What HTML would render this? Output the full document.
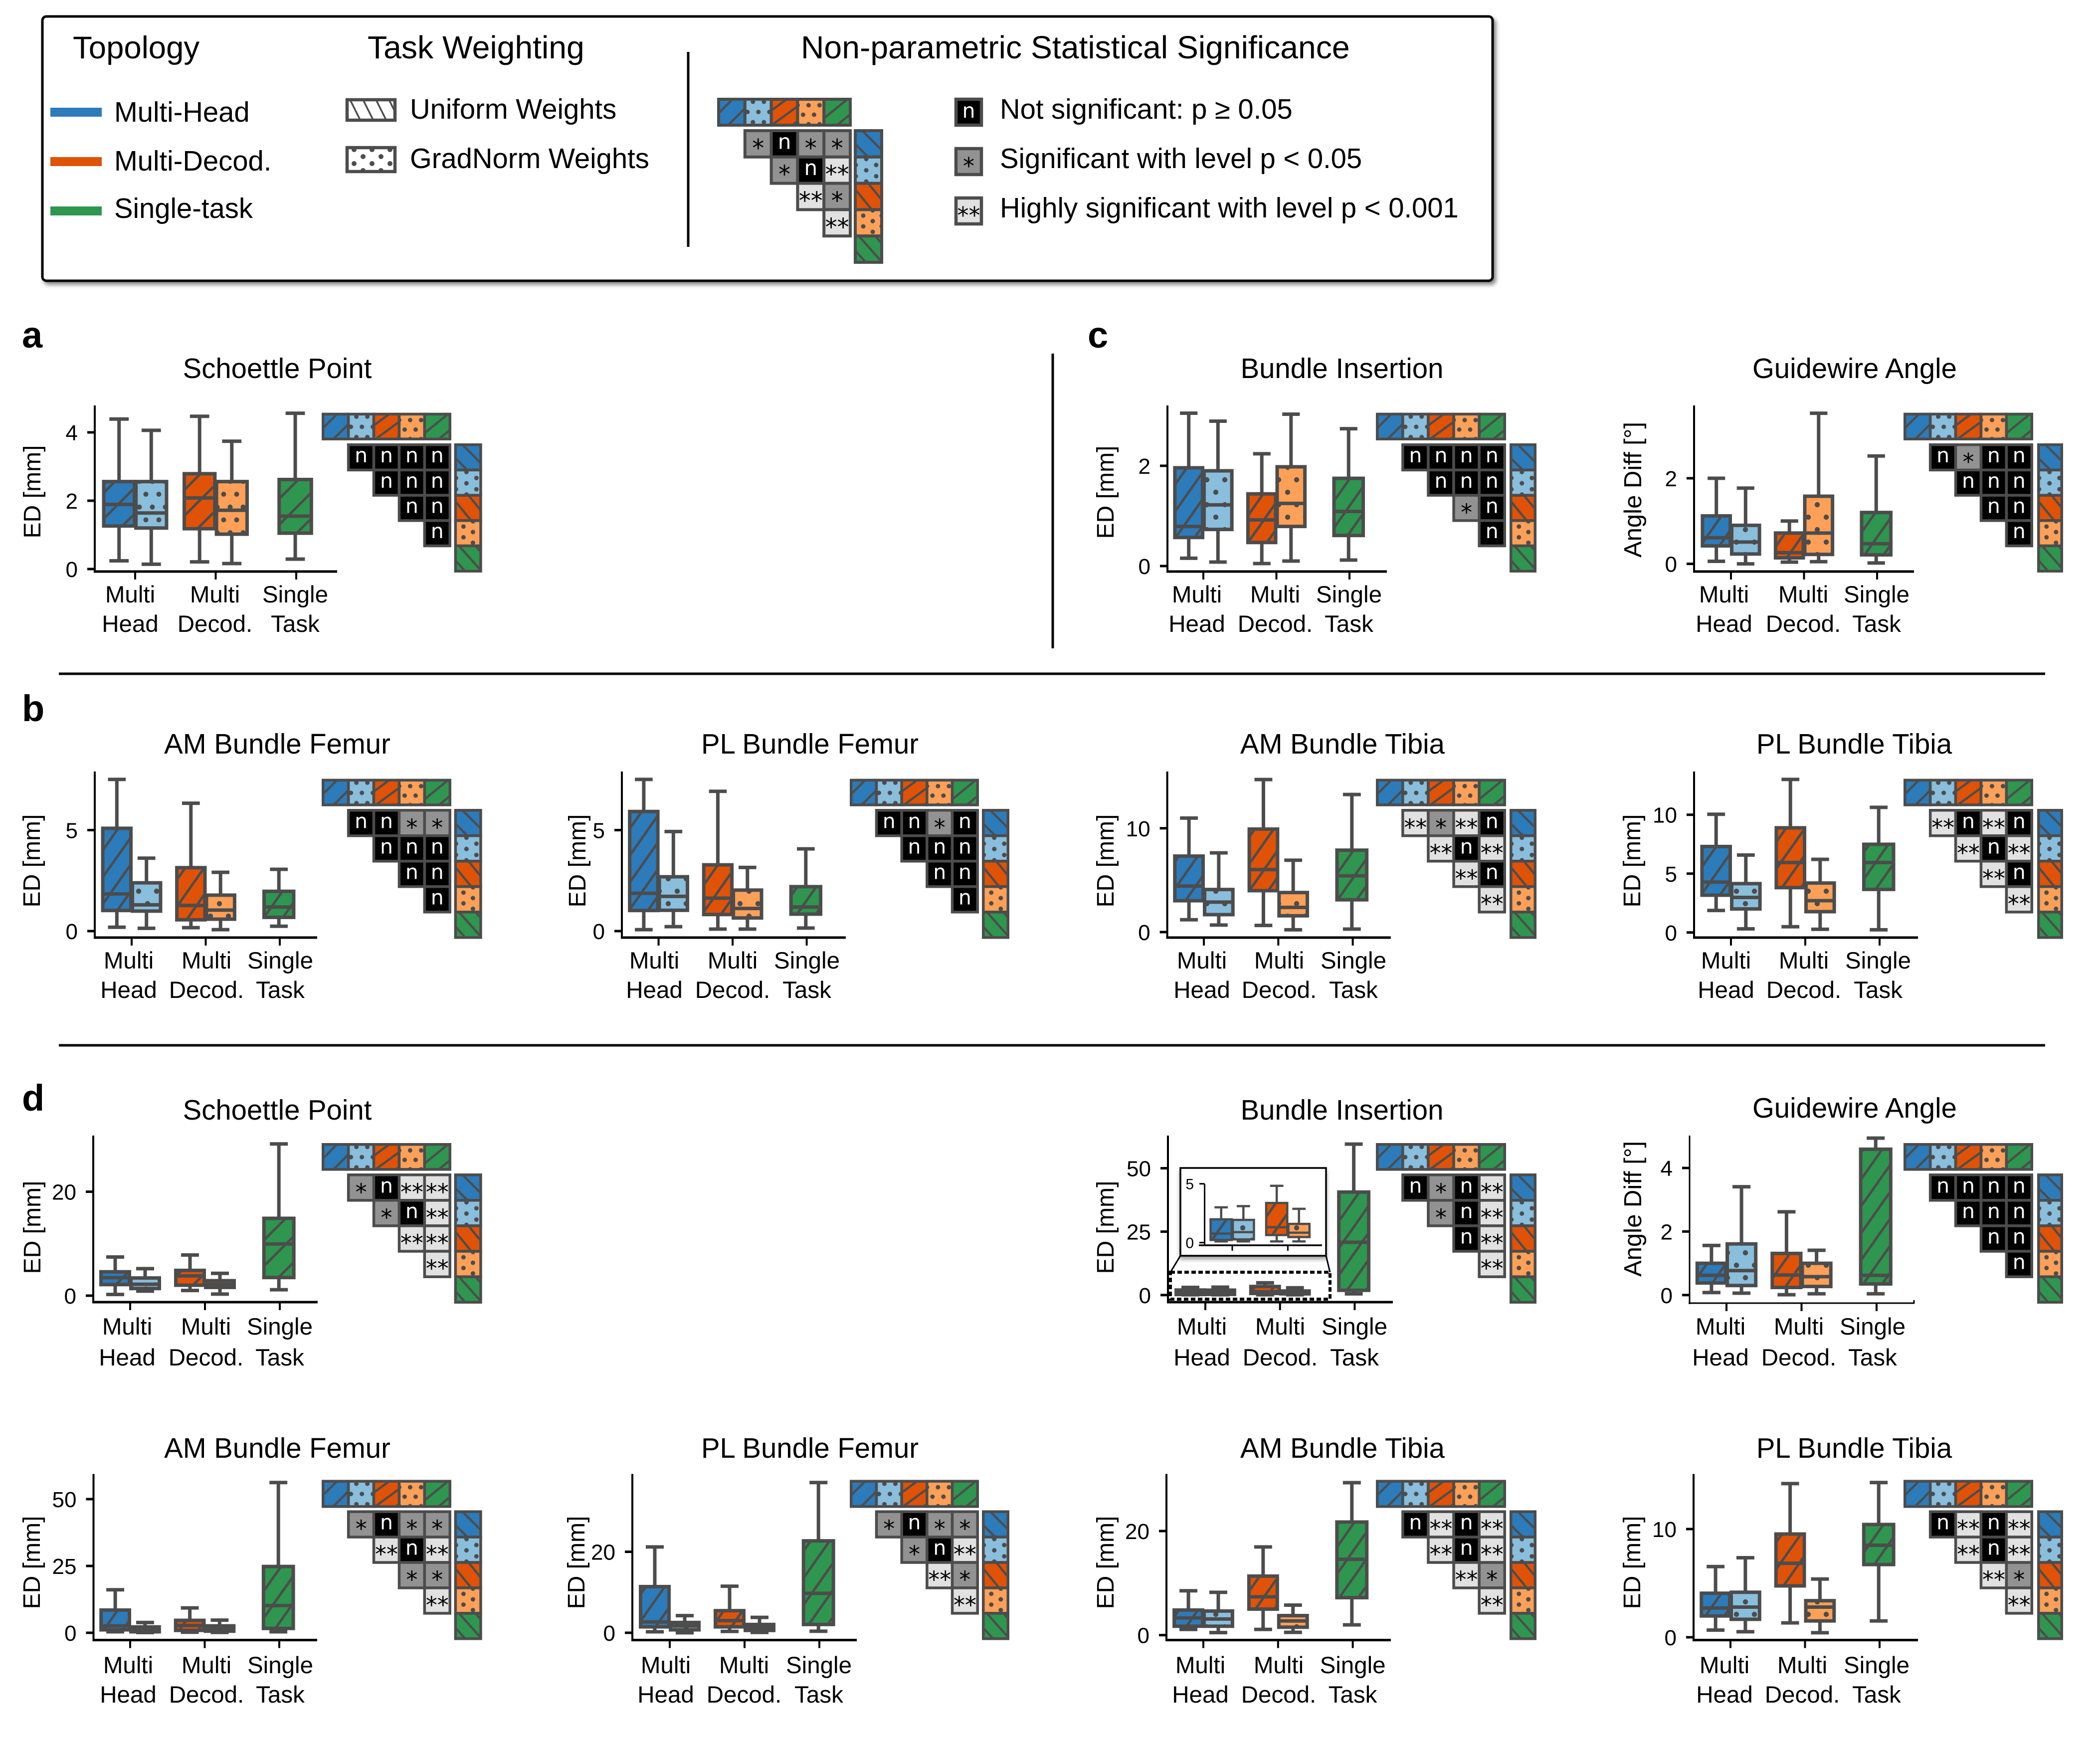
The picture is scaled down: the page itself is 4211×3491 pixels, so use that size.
<!DOCTYPE html>
<html lang="en">
<head>
<meta charset="utf-8">
<title>Statistical significance box plots</title>
<style>
html,body{margin:0;padding:0;background:#fff;}
svg{display:block;}
text{font-family:"Liberation Sans",Arial,sans-serif;fill:#000;}
.cell-text{font-family:"DejaVu Sans","Liberation Sans",sans-serif;}
</style>
</head>
<body>
<svg id="figure" xmlns="http://www.w3.org/2000/svg" width="4211" height="3491" viewBox="0 0 4211 3491">
  <defs id="defs"></defs>
  <rect x="0" y="0" width="4211" height="3491" fill="#fff"/>

  <g id="legend">
    <rect x="85" y="33" width="2908" height="530" rx="8" ry="8" fill="#fff" stroke="#000" stroke-width="5" style="filter:drop-shadow(5px 6px 4px rgba(0,0,0,.45))"/>
    <text x="146" y="117" font-size="63.5">Topology</text>
    <text x="737" y="117" font-size="64.3">Task Weighting</text>
    <text x="1606" y="117" font-size="64.3">Non-parametric Statistical Significance</text>

    <rect x="101" y="216" width="103" height="18" fill="#2c7bba"/>
    <rect x="101" y="315" width="103" height="18" fill="#e05206"/>
    <rect x="101" y="414" width="103" height="18" fill="#2e964e"/>
    <text x="229" y="244" font-size="56.2">Multi-Head</text>
    <text x="229" y="342" font-size="56.2">Multi-Decod.</text>
    <text x="229" y="437" font-size="56.2">Single-task</text>

    <rect x="696" y="200" width="96" height="41" fill="#fff"/>
    <rect x="696" y="200" width="96" height="41" fill="url(#legendHatch)"/>
    <rect x="696" y="200" width="96" height="41" fill="none" stroke="#4c4c4c" stroke-width="6.5"/>
    <rect x="696" y="296" width="96" height="48" fill="#fff"/>
    <rect x="696" y="296" width="96" height="48" fill="url(#legendDots)"/>
    <rect x="696" y="296" width="96" height="48" fill="none" stroke="#4c4c4c" stroke-width="6.5"/>
    <text x="822" y="238" font-size="56.2">Uniform Weights</text>
    <text x="822" y="337" font-size="56.2">GradNorm Weights</text>

    <line x1="1380" y1="104" x2="1380" y2="495" stroke="#000" stroke-width="5"/>

    <rect x="1917" y="199" width="51" height="52" fill="#000" stroke="#4c4c4c" stroke-width="6.5"/>
    <text class="cell-text" x="1942.5" y="236" font-size="41" text-anchor="middle" style="fill:#fff">n</text>
    <rect x="1917" y="298" width="51" height="52" fill="#929292" stroke="#4c4c4c" stroke-width="6.5"/>
    <text class="cell-text" x="1942.5" y="349" font-size="46" text-anchor="middle">*</text>
    <rect x="1917" y="397" width="51" height="52" fill="#e1e1e1" stroke="#4c4c4c" stroke-width="6.5"/>
    <text class="cell-text" x="1942.5" y="448" font-size="46" text-anchor="middle">**</text>
    <text x="2005" y="238" font-size="56.2">Not significant: p ≥ 0.05</text>
    <text x="2005" y="337" font-size="56.2">Significant with level p &lt; 0.05</text>
    <text x="2005" y="436" font-size="56.2">Highly significant with level p &lt; 0.001</text>
  </g>

  <line x1="2111" y1="709" x2="2111" y2="1300" stroke="#000" stroke-width="5"/>
  <line x1="118" y1="1351" x2="4101" y2="1351" stroke="#000" stroke-width="5"/>
  <line x1="118" y1="2096" x2="4101" y2="2096" stroke="#000" stroke-width="5"/>

  <text x="44" y="697" font-size="74" font-weight="bold">a</text>
  <text x="2181" y="697" font-size="74" font-weight="bold">c</text>
  <text x="44" y="1446" font-size="74" font-weight="bold">b</text>
  <text x="44" y="2227" font-size="74" font-weight="bold">d</text>

  <g id="panels"></g>
</svg>

<script>
// ---------- Shared categories ----------
const categoryTop = ['Multi', 'Multi', 'Single'];
const categoryBottom = ['Head', 'Decod.', 'Task'];
const seriesNames = ['multi-head-uniform', 'multi-head-gradnorm', 'multi-decod-uniform', 'multi-decod-gradnorm', 'single-task'];
const seriesColors = ['#2c7bba', '#89bedc', '#e05206', '#fea057', '#2e964e'];
const seriesGroup = [0, 0, 1, 1, 2];
const seriesDodge = [-0.2, 0.2, -0.2, 0.2, -0.012];

// ---------- Box values per panel: [low whisker, q1, median, q3, high whisker] ----------
const schoettleValues = [[0.24,1.26,1.89,2.56,4.39],[0.14,1.20,1.64,2.56,4.06],[0.21,1.18,2.08,2.79,4.47],[0.16,1.02,1.72,2.56,3.74],[0.29,1.05,1.55,2.62,4.56]];
const schoettleTicks = [0, 2, 4];
const schoettleSig = [['n','n','n','n'],['n','n','n'],['n','n'],['n']];

const insertionValues = [[0.155,0.57,0.79,1.96,3.05],[0.08,0.73,1.22,1.90,2.89],[0.05,0.47,0.92,1.44,2.24],[0.10,0.79,1.25,1.98,3.03],[0.12,0.61,1.09,1.75,2.74]];
const insertionTicks = [0, 2];
const insertionSig = [['n','n','n','n'],['n','n','n'],['*','n'],['n']];

const guidewireValues = [[0.06,0.42,0.61,1.12,2.0],[0.0,0.23,0.51,0.90,1.77],[0.04,0.14,0.26,0.72,1.0],[0.05,0.22,0.72,1.58,3.52],[0.02,0.21,0.47,1.20,2.52]];
const guidewireTicks = [0, 2];
const guidewireSig = [['n','*','n','n'],['n','n','n'],['n','n'],['n']];

const amFemurValues = [[0.19,1.02,1.84,5.09,7.51],[0.14,0.99,1.30,2.39,3.61],[0.17,0.56,1.27,3.14,6.33],[0.07,0.59,1.04,1.78,2.91],[0.24,0.68,1.19,1.97,3.06]];
const amFemurTicks = [0, 5];
const amFemurSig = [['n','n','*','*'],['n','n','n'],['n','n'],['n']];

const plFemurValues = [[0.07,1.02,1.87,5.92,7.51],[0.22,1.03,1.72,2.69,4.93],[0.10,0.82,1.63,3.28,6.92],[0.10,0.65,1.12,2.03,3.15],[0.15,0.84,1.19,2.20,4.07]];
const plFemurTicks = [0, 5];
const plFemurSig = [['n','n','*','n'],['n','n','n'],['n','n'],['n']];

const amTibiaValues = [[1.19,3.02,4.43,7.32,10.98],[0.68,1.68,2.89,4.10,7.63],[0.64,3.99,6.02,9.92,14.69],[0.22,1.57,2.38,3.81,6.92],[0.29,3.11,5.42,7.89,13.25]];
const amTibiaTicks = [0, 10];
const amTibiaSig = [['**','*','**','n'],['**','n','**'],['**','n'],['**']];

const plTibiaValues = [[1.87,3.17,4.28,7.30,10.04],[0.31,2.0,2.98,4.15,6.58],[0.49,3.81,5.94,8.89,13.0],[0.27,1.77,2.70,4.2,6.21],[0.23,3.66,5.94,7.49,10.63]];
const plTibiaTicks = [0, 5, 10];
const plTibiaSig = [['**','n','**','n'],['**','n','**'],['**','n'],['**']];

const schoettleRotValues = [[0.23,2.13,3.45,4.59,7.44],[0.87,1.37,2.2,3.4,5.2],[0.99,2.01,3.8,4.86,7.82],[0.3,1.59,2.2,2.88,4.29],[1.14,3.49,9.94,14.88,29.2]];
const schoettleRotTicks = [0, 20];
const schoettleRotSig = [['*','n','**','**'],['*','n','**'],['**','**'],['**']];

const insertionRotValues = [[0.1,0.22,0.77,1.98,3.0],[0.1,0.27,0.89,1.93,3.1],[0.1,0.64,1.31,3.37,4.83],[0.1,0.47,0.84,1.59,2.87],[0.47,1.87,20.8,40.6,59.5]];
const insertionRotTicks = [0, 25, 50];
const insertionRotInsetTicks = [0, 5];
const insertionRotSig = [['n','*','n','**'],['*','n','**'],['n','**'],['**']];

const guidewireRotValues = [[0.08,0.38,0.62,1.0,1.56],[0.06,0.30,0.77,1.61,3.41],[0.01,0.24,0.63,1.31,2.62],[0.04,0.27,0.58,1.0,1.41],[0.04,0.35,0.62,4.59,4.94]];
const guidewireRotTicks = [0, 2, 4];
const guidewireRotSig = [['n','n','n','n'],['n','n','n'],['n','n'],['n']];

const amFemurRotValues = [[0.37,1.1,2.6,8.5,16.1],[0.1,0.37,1.26,2.2,3.84],[0.22,0.89,2.73,4.65,9.3],[0.15,0.6,1.48,2.59,4.73],[0.37,1.63,10.2,24.8,56.2]];
const amFemurRotTicks = [0, 25, 50];
const amFemurRotSig = [['*','n','*','*'],['**','n','**'],['*','*'],['**']];

const plFemurRotValues = [[0.24,1.46,2.68,11.4,21.2],[0.0,0.73,1.7,2.54,4.24],[0.34,1.46,3.02,5.46,11.5],[0.1,0.58,1.32,2.05,3.8],[0.39,2.05,9.75,22.7,37.1]];
const plFemurRotTicks = [0, 20];
const plFemurRotSig = [['*','n','*','*'],['*','n','**'],['**','*'],['**']];

const amTibiaRotValues = [[1.1,1.71,3.3,4.82,8.53],[0.49,1.71,3.1,4.63,8.23],[1.1,5.0,7.36,11.34,16.95],[0.53,1.52,2.73,3.75,5.77],[1.97,7.2,14.57,21.73,29.3]];
const amTibiaRotTicks = [0, 20];
const amTibiaRotSig = [['n','**','n','**'],['**','n','**'],['**','*'],['**']];

const plTibiaRotValues = [[0.66,1.97,2.7,4.07,6.53],[0.51,1.66,2.79,4.16,7.35],[1.33,4.75,6.84,9.54,14.2],[0.42,1.51,2.79,3.38,5.38],[1.51,6.72,8.5,10.42,14.3]];
const plTibiaRotTicks = [0, 10];
const plTibiaRotSig = [['n','**','n','**'],['**','n','**'],['**','*'],['**']];

const legendSig = [['*','n','*','*'],['*','n','**'],['**','*'],['**']];

// ---------- Layout (geometry only) ----------
const colA = {x0:645, x1:905, rx0:910.6, rx1:966.7};
const colB = {x0:1704, x1:1963, rx0:1969, rx1:2024};
const colC = {x0:2759, x1:3020, rx0:3027, rx1:3081};
const colD = {x0:3817, x1:4077, rx0:4085, rx1:4137};
const rowA = {y0:827.6, y1:883, y2:889, y3:1148, axisTop:813, axisBottom:1146, title:758, lab1:1208, lab2:1267};
const rowB = {y0:1561.6, y1:1616.7, y2:1622, y3:1882.6, axisTop:1547, axisBottom:1880, title:1511, lab1:1942, lab2:2001};
const rowC = {y0:2292, y1:2347.6, y2:2353, y3:2614, axisTop:2277, axisBottom:2611, title:2245, lab1:2676, lab2:2738};
const rowD = {y0:2967.4, y1:3023.6, y2:3028.4, y3:3288.6, axisTop:2955.5, axisBottom:3288.6, title:2923, lab1:3355, lab2:3414};

const panels = [
 {id:'a-schoettle', title:'Schoettle Point', tcx:556, yLabel:'ED [mm]', yLx:81, yLy:986, values:schoettleValues, ticks:schoettleTicks, sig:schoettleSig, row:rowA, col:colA, axX:190, axR:676, tick0:271, step:161.5, pLow:1141, pHigh:867, labX:[261,431,592], hatch:'hatchSquare', dots:'dotsSquare'},
 {id:'c-insertion', title:'Bundle Insertion', tcx:2691, yLabel:'ED [mm]', yLx:2233, yLy:987, values:insertionValues, ticks:insertionTicks, sig:insertionSig, row:rowA, col:colC, axX:2341, axR:2781, tick0:2413, step:146.5, pLow:1135, pHigh:934, labX:[2400,2557,2705], hatch:'hatchSteep', dots:'dotsWide'},
 {id:'c-guidewire', title:'Guidewire Angle', tcx:3719, yLabel:'Angle Diff [°]', yLx:3291, yLy:982, lf:49, values:guidewireValues, ticks:guidewireTicks, sig:guidewireSig, row:rowA, col:colD, axX:3397, axR:3838, tick0:3471, step:146.5, pLow:1130.6, pHigh:959, labX:[3457,3616,3763], hatch:'hatchSteep', dots:'dotsWide'},

 {id:'b-am-femur', title:'AM Bundle Femur', tcx:556, yLabel:'ED [mm]', yLx:80, yLy:1726, values:amFemurValues, ticks:amFemurTicks, sig:amFemurSig, row:rowB, col:colA, axX:190, axR:636, tick0:264, step:148.5, pLow:1867, pHigh:1664.5, labX:[258,414,562], hatch:'hatchSteep', dots:'dotsWide'},
 {id:'b-pl-femur', title:'PL Bundle Femur', tcx:1624, yLabel:'ED [mm]', yLx:1174, yLy:1726, values:plFemurValues, ticks:plFemurTicks, sig:plFemurSig, row:rowB, col:colB, axX:1247, axR:1696, tick0:1320.6, step:148.5, pLow:1867, pHigh:1664.5, labX:[1312,1469,1618], hatch:'hatchSteep', dots:'dotsWide'},
 {id:'b-am-tibia', title:'AM Bundle Tibia', tcx:2692, yLabel:'ED [mm]', yLx:2233, yLy:1726, values:amTibiaValues, ticks:amTibiaTicks, sig:amTibiaSig, row:rowB, col:colC, axX:2340.6, axR:2789, tick0:2414, step:149.3, pLow:1869, pHigh:1660.8, labX:[2410,2565,2714], hatch:'hatchSteep', dots:'dotsWide'},
 {id:'b-pl-tibia', title:'PL Bundle Tibia', tcx:3718, yLabel:'ED [mm]', yLx:3289, yLy:1726, values:plTibiaValues, ticks:plTibiaTicks, sig:plTibiaSig, row:rowB, col:colD, axX:3397, axR:3846, tick0:3471, step:149, pLow:1869.8, pHigh:1633.7, labX:[3461,3617,3766], hatch:'hatchSteep', dots:'dotsWide'},

 {id:'d-schoettle', title:'Schoettle Point', tcx:556, yLabel:'ED [mm]', yLx:81, yLy:2461, values:schoettleRotValues, ticks:schoettleRotTicks, sig:schoettleRotSig, row:rowC, col:colA, axX:187, axR:637, tick0:261, step:150, pLow:2598, pHigh:2389.6, labX:[255,413,561], hatch:'hatchSquare', dots:'dotsSquare'},
 {id:'d-insertion', title:'Bundle Insertion', tcx:2691, yLabel:'ED [mm]', yLx:2233, yLy:2461, values:insertionRotValues, ticks:insertionRotTicks, sig:insertionRotSig, row:rowC, col:colC, axX:2342, axR:2793, tick0:2417, step:149.7, pLow:2596.8, pHigh:2342.5, labX:[2410,2567,2716], hatch:'hatchSteep', dots:'dotsWide', hasInset:true},
 {id:'d-guidewire', title:'Guidewire Angle', tcx:3719, titleY:2241, yLabel:'Angle Diff [°]', yLx:3291, yLy:2424, lf:49, values:guidewireRotValues, ticks:guidewireRotTicks, sig:guidewireRotSig, row:rowC, col:colD, axX:3388, axR:3838, axBottom:2613, thinAxis:true, tick0:3462, step:150.5, pLow:2596.8, pHigh:2342, labX:[3450,3607,3755], hatch:'hatchSteep', dots:'dotsWide'},

 {id:'d-am-femur', title:'AM Bundle Femur', tcx:556, yLabel:'ED [mm]', yLx:80, yLy:3133, values:amFemurRotValues, ticks:amFemurRotTicks, sig:amFemurRotSig, row:rowD, col:colA, axX:187.5, axR:636, tick0:261, step:149.5, pLow:3274, pHigh:3006, labX:[257,414,562], hatch:'hatchSteep', dots:'dotsWide'},
 {id:'d-pl-femur', title:'PL Bundle Femur', tcx:1624, yLabel:'ED [mm]', yLx:1172, yLy:3133, values:plFemurRotValues, ticks:plFemurRotTicks, sig:plFemurRotSig, row:rowD, col:colB, axX:1268, axR:1718, tick0:1343, step:150, pLow:3274, pHigh:3111.6, labX:[1335,1492,1642], hatch:'hatchSteep', dots:'dotsWide'},
 {id:'d-am-tibia', title:'AM Bundle Tibia', tcx:2692, yLabel:'ED [mm]', yLx:2233, yLy:3133, values:amTibiaRotValues, ticks:amTibiaRotTicks, sig:amTibiaRotSig, row:rowD, col:colC, axX:2339, axR:2789, tick0:2413, step:149.8, pLow:3278.7, pHigh:3070, labX:[2407,2564,2712.6], hatch:'hatchSteep', dots:'dotsWide'},
 {id:'d-pl-tibia', title:'PL Bundle Tibia', tcx:3718, yLabel:'ED [mm]', yLx:3289, yLy:3133, values:plTibiaRotValues, ticks:plTibiaRotTicks, sig:plTibiaRotSig, row:rowD, col:colD, axX:3396, axR:3846, tick0:3470, step:149.5, pLow:3283, pHigh:3066, labX:[3458,3614,3763], hatch:'hatchSteep', dots:'dotsWide'}
];

const GRAY = '#4c4c4c';
const NS = 'http://www.w3.org/2000/svg';
const defsEl = document.getElementById('defs');
const panelsEl = document.getElementById('panels');
const legendEl = document.getElementById('legend');

function make(tag, attrs, parent, text) {
  const e = document.createElementNS(NS, tag);
  for (const k in attrs) e.setAttribute(k, attrs[k]);
  if (text !== undefined) e.textContent = text;
  parent.appendChild(e);
  return e;
}

// ---------- Patterns ----------
function addHatch(id, w, h, back, dx, sw, color) {
  const p = make('pattern', {id:id, patternUnits:'userSpaceOnUse', width:w, height:h, patternTransform:'translate(' + dx + ' 0)'}, defsEl);
  const d = back
    ? 'M' + (-w) + ' ' + (-h) + 'L' + (2*w) + ' ' + (2*h) + 'M' + (-w) + ' 0L' + w + ' ' + (2*h) + 'M0 ' + (-h) + 'L' + (2*w) + ' ' + h
    : 'M' + (-w) + ' ' + (2*h) + 'L' + (2*w) + ' ' + (-h) + 'M' + (-w) + ' ' + h + 'L' + w + ' ' + (-h) + 'M0 ' + (2*h) + 'L' + (2*w) + ' 0';
  make('path', {d:d, stroke:color || GRAY, 'stroke-width':sw, fill:'none'}, p);
}
function addDots(id, w, h, pts, r) {
  const p = make('pattern', {id:id, patternUnits:'userSpaceOnUse', width:w, height:h}, defsEl);
  pts.forEach(function (pt) {
    for (let i = -1; i <= 1; i++) for (let j = -1; j <= 1; j++) {
      make('circle', {cx:pt[0] + i*w, cy:pt[1] + j*h, r:r, fill:GRAY}, p);
    }
  });
}
addHatch('hatchSquare', 52, 52, false, 0, 5);
addHatch('hatchSteep', 38, 54, false, 0, 5);
addDots('dotsSquare', 26, 51.4, [[6.5,14.4],[19.5,40.1]], 5);
addDots('dotsWide', 36, 50, [[8,12],[26,37]], 5.2);
addHatch('legendHatch', 26, 52, true, 4, 3.5);
addDots('legendDots', 36, 28, [[8,6],[26,20]], 5);
addHatch('topBlue', 43, 43, false, -15, 4.5);
addDots('topLight', 22, 41, [[16,5],[5,25.5]], 4.5);
addHatch('topRed', 41, 30, false, -10, 4.5);
addDots('topOrange', 22, 38, [[0,12],[11,31]], 4.5);
addHatch('topGreen', 43, 35, false, 4, 4.5);
addHatch('rightBlue', 41, 41, true, 14, 4.5);
addDots('rightLight', 41, 22.6, [[22,4],[1,16]], 4.5);
addHatch('rightRed', 36, 44, true, -10, 4.5);
addDots('rightOrange', 37, 21.5, [[16,12],[35,1.5]], 4.5);
addHatch('rightGreen', 33, 37, true, 7, 4.5);
const topPatterns = ['topBlue', 'topLight', 'topRed', 'topOrange', 'topGreen'];
const rightPatterns = ['rightBlue', 'rightLight', 'rightRed', 'rightOrange', 'rightGreen'];

// ---------- Scales ----------
function linearScale(d0, p0, d1, p1) {
  return function (v) { return p0 + (v - d0) * (p1 - p0) / (d1 - d0); };
}

// ---------- Boxes ----------
function drawBoxes(parent, values, xOf, yOf, o) {
  values.forEach(function (row, i) {
    const x = xOf(i);
    const low = yOf(row[0]), q1 = yOf(row[1]), med = yOf(row[2]), q3 = yOf(row[3]), high = yOf(row[4]);
    const halfBox = o.step * (i === 4 ? 0.2 : 0.19);
    const halfCap = o.step * 0.12;
    const g = make('g', {}, parent);
    
    

    const whiskerHigh = make('line', {x1:x, x2:x, y1:high, y2:q3, stroke:GRAY, 'stroke-width':o.sw}, g);
    
    
    const whiskerLow = make('line', {x1:x, x2:x, y1:q1, y2:low, stroke:GRAY, 'stroke-width':o.sw}, g);
    
    
    const capHigh = make('line', {x1:x - halfCap, x2:x + halfCap, y1:high, y2:high, stroke:GRAY, 'stroke-width':o.sw}, g);
    
    
    const capLow = make('line', {x1:x - halfCap, x2:x + halfCap, y1:low, y2:low, stroke:GRAY, 'stroke-width':o.sw}, g);
    
    

    const rectAttrs = {x:x - halfBox, y:q3, width:2 * halfBox, height:Math.max(q1 - q3, 0)};
    const fill = make('rect', Object.assign({fill:seriesColors[i]}, rectAttrs), g);
    
    
    const pattern = make('rect', Object.assign({fill:'url(#' + (i % 2 === 1 ? o.dots : o.hatch) + ')'}, rectAttrs), g);
    
    
    const outline = make('rect', Object.assign({fill:'none', stroke:GRAY, 'stroke-width':o.sw}, rectAttrs), g);
    
    
    const median = make('line', {x1:x - halfBox, x2:x + halfBox, y1:med, y2:med, stroke:GRAY, 'stroke-width':o.sw}, g);
    
    
  });
}

// ---------- Significance matrix ----------
function drawMatrix(parent, sig, box, border, nSize, starSize) {
  const g = make('g', {}, parent);
  
  
  const cw = (box.x1 - box.x0 - border) / 5;
  const headH = box.y1 - box.y0 - border;
  const rh = (box.y3 - box.y2 - border) / 5;
  const gx = box.x0 + border / 2;
  const gy = box.y2 + border / 2;
  const rx = box.rx0 + border / 2;
  const rw = box.rx1 - box.rx0 - border;

  seriesColors.forEach(function (color, j) {
    const t = 'translate(' + (gx + j * cw) + ' ' + (box.y0 + border / 2) + ')';
    const head = make('g', {transform:t}, g);
    
    
    make('rect', {x:0, y:0, width:cw, height:headH, fill:color}, head);
    make('rect', {x:0, y:0, width:cw, height:headH, fill:'url(#' + topPatterns[j] + ')'}, head);
    make('rect', {x:0, y:0, width:cw, height:headH, fill:'none', stroke:GRAY, 'stroke-width':border}, head);

    const t2 = 'translate(' + rx + ' ' + (gy + j * rh) + ')';
    const side = make('g', {transform:t2}, g);
    
    
    make('rect', {x:0, y:0, width:rw, height:rh, fill:color}, side);
    make('rect', {x:0, y:0, width:rw, height:rh, fill:'url(#' + rightPatterns[j] + ')'}, side);
    make('rect', {x:0, y:0, width:rw, height:rh, fill:'none', stroke:GRAY, 'stroke-width':border}, side);
  });

  sig.forEach(function (row, r) {
    row.forEach(function (mark, c) {
      const j = r + 1 + c;
      const cx = gx + j * cw, cy = gy + r * rh;
      const bg = mark === 'n' ? '#000' : (mark === '*' ? '#929292' : '#e1e1e1');
      const cell = make('rect', {x:cx, y:cy, width:cw, height:rh, fill:bg, stroke:GRAY, 'stroke-width':border}, g);
      
      
      const base = mark === 'n' ? cy + rh / 2 + 10 : cy + rh / 2 + 25;
      const label = make('text', {x:cx + cw / 2, y:base, 'font-size':mark === 'n' ? nSize : starSize, 'text-anchor':'middle', class:'cell-text'}, g, mark);
      if (mark === 'n') label.style.fill = '#fff';
      
      
    });
  });
}

// ---------- Panel ----------
function drawPanel(p) {
  const g = make('g', {}, panelsEl);
  
  

  const row = p.row;
  const axBottom = p.axBottom || row.axisBottom;
  const yOf = linearScale(p.ticks[0], p.pLow, p.ticks[p.ticks.length - 1], p.pHigh);
  const xCat = function (u) { return p.tick0 + u * p.step; };
  const xOf = function (i) { return xCat(seriesGroup[i] + seriesDodge[i]); };

  const title = make('text', {x:p.tcx, y:p.titleY || row.title, 'font-size':56.3, 'text-anchor':'middle'}, g, p.title);
  
  

  const yLabel = make('text', {x:p.yLx, y:p.yLy, 'font-size':p.lf || 48, 'text-anchor':'middle', transform:'rotate(-90 ' + p.yLx + ' ' + p.yLy + ')'}, g, p.yLabel);
  
  

  drawBoxes(g, p.values, xOf, yOf, {step:p.step, sw:7, hatch:p.hatch, dots:p.dots});

  const yAxis = make('line', {x1:p.axX, x2:p.axX, y1:row.axisTop, y2:axBottom + 2, stroke:'#000', 'stroke-width':p.thinAxis ? 3 : 4}, g);
  
  
  const xAxis = make('line', {x1:p.axX - 2, x2:p.axR, y1:axBottom, y2:axBottom, stroke:'#000', 'stroke-width':p.thinAxis ? 3 : 5}, g);
  
  
  if (p.thinAxis) {
    const nub = make('line', {x1:p.axR, x2:p.axR, y1:axBottom - 6, y2:axBottom + 1, stroke:'#000', 'stroke-width':3}, g);
    
    
  }

  p.ticks.forEach(function (t) {
    const y = yOf(t);
    const mark = make('line', {x1:p.axX - 15, x2:p.axX, y1:y, y2:y, stroke:'#000', 'stroke-width':5}, g);
    
    
    const lab = make('text', {x:p.axX - 34, y:y + 16, 'font-size':44, 'text-anchor':'end'}, g, String(t));
    
    
  });

  categoryTop.forEach(function (name, i) {
    const x = xCat(i);
    const mark = make('line', {x1:x, x2:x, y1:axBottom, y2:axBottom + 16, stroke:'#000', 'stroke-width':4}, g);
    
    
    const top = make('text', {x:p.labX[i], y:row.lab1, 'font-size':47.5, 'text-anchor':'middle'}, g, name);
    
    
    const bottom = make('text', {x:p.labX[i], y:row.lab2, 'font-size':47.5, 'text-anchor':'middle'}, g, categoryBottom[i]);
    
    
  });

  if (p.hasInset) drawInset(g, p);

  const box = {x0:p.col.x0, x1:p.col.x1, rx0:p.col.rx0, rx1:p.col.rx1, y0:row.y0, y1:row.y1, y2:row.y2, y3:row.y3};
  drawMatrix(g, p.sig, box, 5.5, 41, 46);
}

// ---------- Inset on the lower Bundle Insertion panel ----------
function drawInset(parent, p) {
  const g = make('g', {}, parent);
  
  

  const region = make('rect', {x:2347, y:2551, width:320, height:54, fill:'none', stroke:'#000', 'stroke-width':6, 'stroke-dasharray':'9 5'}, g);
  
  
  const linkL = make('line', {x1:2367, y1:2518, x2:2347, y2:2551, stroke:'#000', 'stroke-width':3}, g);
  
  
  const linkR = make('line', {x1:2659, y1:2518, x2:2667, y2:2551, stroke:'#000', 'stroke-width':3}, g);
  
  

  const frame = make('rect', {x:2367, y:2342, width:292, height:176, fill:'#fff', stroke:'#000', 'stroke-width':3.5, style:'filter:drop-shadow(0 6px 4px rgba(0,0,0,.35))'}, g);
  
  

  const step = 111.4;
  const tick0 = 2471;
  const yOf = linearScale(insertionRotInsetTicks[0], 2491.6, insertionRotInsetTicks[1], 2373.7);
  const xOf = function (i) { return tick0 + (seriesGroup[i] + seriesDodge[i]) * step; };
  drawBoxes(g, p.values.slice(0, 4), xOf, yOf, {step:step, sw:4.5, hatch:p.hatch, dots:p.dots});

  const yAxis = make('line', {x1:2415.5, x2:2415.5, y1:2374, y2:2497, stroke:'#000', 'stroke-width':3}, g);
  
  
  const xAxis = make('line', {x1:2404, x2:2651, y1:2497, y2:2497, stroke:'#000', 'stroke-width':3.5}, g);
  
  

  insertionRotInsetTicks.forEach(function (t) {
    const y = yOf(t);
    const mark = make('line', {x1:2405, x2:2415.5, y1:y, y2:y, stroke:'#000', 'stroke-width':3}, g);
    
    
    const lab = make('text', {x:2394, y:y + 11, 'font-size':30, 'text-anchor':'end'}, g, String(t));
    
    
  });
  [0, 1].forEach(function (i) {
    const x = tick0 + i * step;
    const mark = make('line', {x1:x, x2:x, y1:2497, y2:2508, stroke:'#000', 'stroke-width':3}, g);
    
    
  });
}

panels.forEach(drawPanel);
drawMatrix(legendEl, legendSig, {x0:1438, x1:1708, rx0:1712, rx1:1771, y0:196, y1:254, y2:259, y3:529}, 6, 42, 48);
</script>
</body>
</html>
